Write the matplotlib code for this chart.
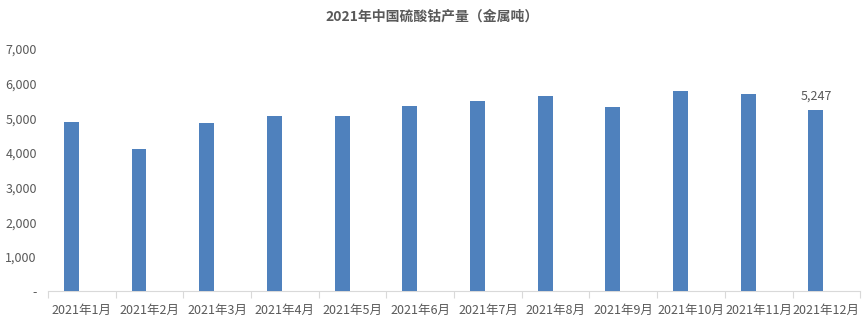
import matplotlib
matplotlib.use("Agg")
import matplotlib.pyplot as plt
from matplotlib.ticker import FuncFormatter, FixedLocator

plt.rcParams['font.family'] = ['Noto Sans CJK SC', 'DejaVu Sans']

title = "2021年中国硫酸钴产量（金属吨）"
categories = ["2021年1月", "2021年2月", "2021年3月", "2021年4月", "2021年5月", "2021年6月",
              "2021年7月", "2021年8月", "2021年9月", "2021年10月", "2021年11月", "2021年12月"]
values = [4900, 4100, 4870, 5060, 5060, 5350, 5500, 5650, 5320, 5780, 5710, 5247]
yticks = [0, 1000, 2000, 3000, 4000, 5000, 6000, 7000]

text_color = "#595959"
bar_color = "#4F81BD"

fig = plt.figure(figsize=(8.65, 3.29), dpi=100)
ax = fig.add_axes([0.0555, 0.114, 0.939, 0.737])

x = list(range(len(categories)))
offset = -0.155
xb = [i + offset for i in x]
ax.bar(xb, values, width=0.22, color=bar_color, zorder=3)

ax.set_xlim(-0.5, len(categories) - 0.5)
ax.set_ylim(0, 7000)
ax.set_yticks(yticks)
ax.yaxis.set_major_formatter(FuncFormatter(lambda v, p: "-" if v == 0 else f"{int(v):,}"))
ax.tick_params(axis='y', length=0, labelsize=9, labelcolor=text_color, pad=8)

ax.set_xticks(x)
ax.set_xticklabels(categories)
ax.tick_params(axis='x', which='major', length=0, labelsize=9, labelcolor=text_color, pad=9)
ax.xaxis.set_minor_locator(FixedLocator([i - 0.5 for i in range(len(categories) + 1)]))
ax.tick_params(axis='x', which='minor', length=5, color="#D9D9D9", width=0.8)

for s in ["top", "right", "left"]:
    ax.spines[s].set_visible(False)
ax.spines["bottom"].set_color("#D9D9D9")
ax.spines["bottom"].set_linewidth(0.8)

ax.annotate(f"{values[-1]:,}", xy=(xb[-1], values[-1]), xytext=(0, 5),
            textcoords="offset points", ha="center", va="bottom",
            fontsize=9, color=text_color)

fig.text(0.5, 0.950, title, ha="center", va="center", fontsize=10,
         fontweight="bold", color=text_color)

fig.savefig("out.png", dpi=100)
